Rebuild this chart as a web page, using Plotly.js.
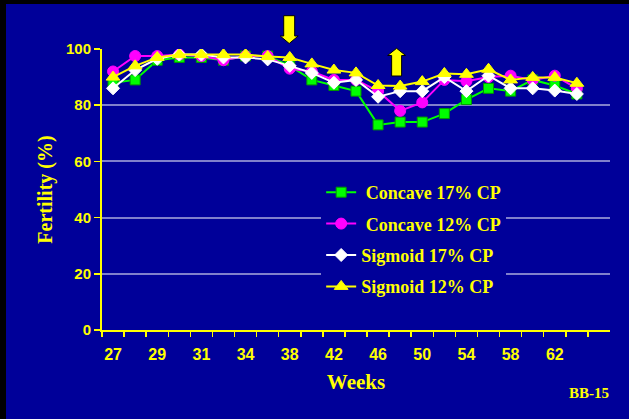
<!DOCTYPE html>
<html><head><meta charset="utf-8">
<script src="https://cdn.plot.ly/plotly-3.0.1.min.js"></script>
<style>html,body{margin:0;padding:0;background:#000;width:629px;height:419px;overflow:hidden;}
#chart{position:absolute;left:6px;top:4px;width:623px;height:415px;}</style>
</head><body><div id="chart"></div><script>
// ---- data ----
const weeks = ['27','28','29','30','31','32','34','36','38','40','42','44','46','48','50','52','54','56','58','60','62','64'];
const weekTickText = ['27','','29','','31','','34','','38','','42','','46','','50','','54','','58','','62',''];
const concave17 = [88, 89, 96, 97, 97, 96, 97.5, 97.5, 94, 89, 87, 85, 73, 74, 74, 77, 82, 86, 85, 89, 87, 84];
const concave12 = [92, 97.5, 97.5, 98, 97.5, 96, 97.5, 97.5, 93, 92, 89, 89, 85, 78, 81, 89, 88.5, 90, 90.5, 89, 90.5, 86];
const sigmoid17 = [86, 92.5, 96.5, 98, 98, 97, 97, 96.3, 94, 91.5, 88, 89, 83, 85, 85, 90, 85, 90.5, 86, 86, 85.2, 84];
const sigmoid12 = [90, 94, 97, 98, 98, 98, 98, 97.3, 97, 94.7, 92.5, 91.5, 87, 86.8, 88.4, 91.3, 91, 92.8, 89, 89.9, 89.9, 87.8];
const seriesNames = ['\u00a0Concave 17% CP', '\u00a0Concave 12% CP', 'Sigmoid 17% CP', 'Sigmoid 12% CP'];

// ---- layout helpers ----
const BG = '#000099', YEL = '#FFFF00';
const W = 623, H = 415, L = 95.7, R = 19, T = 45, B = 89;
const pw = W - L - R, ph = H - T - B;
const px = x => (x - 6 - L) / pw;
const py = y => (H - B - (y - 4)) / ph;
function arrowPath(cx, tipY, baseY, endY, sh, hh) {
  const pts = [[cx - sh, endY], [cx + sh, endY], [cx + sh, baseY], [cx + hh, baseY], [cx, tipY], [cx - hh, baseY], [cx - sh, baseY]];
  return 'M' + pts.map(p => px(p[0]).toFixed(5) + ',' + py(p[1]).toFixed(5)).join(' L') + ' Z';
}

const mk = (y, name, color, symbol, size, lineColor, grp) => ({
  x: weeks, y: y, name: name, type: 'scatter', mode: 'lines+markers', legendgroup: grp,
  line: {color: color, width: 2},
  marker: {color: color, symbol: symbol, size: size, line: {color: lineColor, width: 1}}
});
const traces = [
  mk(concave17, seriesNames[0], '#00FF00', 'square', 10, '#009900', 'a'),
  mk(concave12, seriesNames[1], '#FF00FF', 'circle', 11, '#FF00FF', 'b'),
  mk(sigmoid17, seriesNames[2], '#FFFFFF', 'diamond', 10, '#FFFFFF', 'c'),
  mk(sigmoid12, seriesNames[3], YEL, 'triangle-up', 12, YEL, 'd')
];

const layout = {
  width: W, height: H,
  margin: {l: L, r: R, t: T, b: B, pad: 0},
  paper_bgcolor: BG, plot_bgcolor: BG,
  showlegend: true,
  legend: {x: px(321), xanchor: 'left', y: py(174), yanchor: 'top', bgcolor: BG, borderwidth: 0,
    tracegroupgap: 5, font: {family: 'Liberation Serif, Times New Roman, serif', size: 18, color: YEL, weight: 700}},
  xaxis: {type: 'category', range: [-0.5, 22.5], tickson: 'boundaries', tickvals: weeks, ticktext: weekTickText, tickangle: 0,
    ticks: 'outside', ticklen: 5, tickwidth: 1.5, tickcolor: YEL, showgrid: false, zeroline: false, ticklabelstandoff: 9,
    showline: true, linecolor: YEL, linewidth: 2,
    tickfont: {family: 'Liberation Sans, Arial, sans-serif', size: 16, color: YEL, weight: 700},
    title: {text: 'Weeks', standoff: 12, font: {family: 'Liberation Serif, Times New Roman, serif', size: 21, color: YEL, weight: 700}}},
  yaxis: {range: [0, 100], tickvals: [0, 20, 40, 60, 80, 100], ticks: 'outside', ticklen: 6, tickwidth: 1.5, tickcolor: YEL,
    showline: true, linecolor: YEL, linewidth: 2, showgrid: true, gridcolor: 'rgba(255,255,255,0.5)', gridwidth: 2, zeroline: false,
    tickfont: {family: 'Liberation Sans, Arial, sans-serif', size: 15, color: YEL, weight: 700},
    title: {text: 'Fertility (%)', standoff: 8, font: {family: 'Liberation Serif, Times New Roman, serif', size: 20, color: YEL, weight: 700}}},
  shapes: [
    {type: 'path', xref: 'paper', yref: 'paper', path: arrowPath(289, 43.5, 36, 15.7, 5.5, 9), fillcolor: YEL, line: {color: '#000', width: 1}},
    {type: 'path', xref: 'paper', yref: 'paper', path: arrowPath(396.5, 48.3, 55.5, 76, 5, 9), fillcolor: YEL, line: {color: '#000', width: 1}}
  ],
  annotations: [
    {text: 'BB-15', xref: 'paper', yref: 'paper', x: px(611), y: py(393), xanchor: 'right', yanchor: 'middle', showarrow: false,
      font: {family: 'Liberation Serif, Times New Roman, serif', size: 15, color: YEL, weight: 700}}
  ]
};
Plotly.newPlot('chart', traces, layout, {displayModeBar: false, staticPlot: true});
</script></body></html>
